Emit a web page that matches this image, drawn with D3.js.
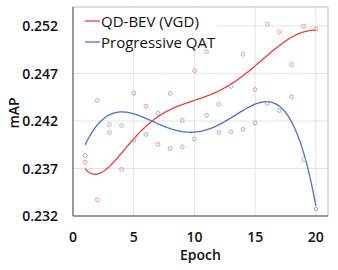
<!DOCTYPE html>
<html>
<head>
<meta charset="utf-8">
<script src="https://cdn.jsdelivr.net/npm/d3@7"></script>
<style>
  body { margin: 0; background: #fff; }
  text { font-family: "Open Sans", sans-serif; fill: #111; }
</style>
</head>
<body>
<svg id="chart"></svg>
<script>
// data
const epochs = d3.range(1, 21);
const qdBev = [0.23766, 0.23372, 0.24080, 0.23691, 0.23998, 0.24355, 0.23954, 0.24490, 0.23929, 0.24730,
               0.24930, 0.24377, 0.24088, 0.24902, 0.24532, 0.25219, 0.25138, 0.24796, 0.25198, 0.25169];
const progQat = [0.23837, 0.24416, 0.24162, 0.24153, 0.24493, 0.24058, 0.24281, 0.23910, 0.24207, 0.24011,
                 0.24260, 0.24080, 0.24564, 0.24112, 0.24180, 0.24384, 0.24310, 0.24455, 0.23792, 0.23274];
const xTicks = [0, 5, 10, 15, 20];
const yTicks = [0.232, 0.237, 0.242, 0.247, 0.252];
const seriesNames = ["QD-BEV (VGD)", "Progressive QAT"];

const W = 338, H = 270;
const margin = {top: 7, right: 10, bottom: 54, left: 73};

const svg = d3.select("#chart").attr("width", W).attr("height", H);

const x = d3.scaleLinear().domain([0, 21]).range([margin.left, W - margin.right]);
const y = d3.scaleLinear().domain([0.232, 0.254]).range([H - margin.bottom, margin.top]);

// least squares polynomial trend line (like a spreadsheet trendline)
function polyFit(xs, ys, deg) {
  const c = 10.5, s = 9.5;
  const n = deg + 1;
  const A = [];
  for (let i = 0; i < n; i++) { A.push(new Array(n + 1).fill(0)); }
  xs.forEach((xv, k) => {
    const t = (xv - c) / s;
    for (let i = 0; i < n; i++) {
      for (let j = 0; j < n; j++) A[i][j] += Math.pow(t, i + j);
      A[i][n] += ys[k] * Math.pow(t, i);
    }
  });
  for (let i = 0; i < n; i++) {
    let p = i;
    for (let r = i + 1; r < n; r++) {
      if (Math.abs(A[r][i]) > Math.abs(A[p][i])) p = r;
    }
    const tmp = A[i]; A[i] = A[p]; A[p] = tmp;
    for (let r = 0; r < n; r++) {
      if (r === i) continue;
      const f = A[r][i] / A[i][i];
      for (let cc = i; cc <= n; cc++) A[r][cc] -= f * A[i][cc];
    }
  }
  const coef = A.map((row, i) => row[n] / row[i]);
  return xv => {
    const t = (xv - c) / s;
    return coef.reduce((acc, a, i) => acc + a * Math.pow(t, i), 0);
  };
}

// grid
const grid = svg.append("g").attr("stroke", "#e3e3e3").attr("stroke-width", 1);
grid.selectAll(".gx").data(xTicks.slice(1)).enter().append("line")
  .attr("x1", d => x(d)).attr("x2", d => x(d))
  .attr("y1", y.range()[1]).attr("y2", y.range()[0]);
grid.selectAll(".gy").data(yTicks.slice(1)).enter().append("line")
  .attr("x1", x.range()[0]).attr("x2", x.range()[1])
  .attr("y1", d => y(d)).attr("y2", d => y(d));

// legend background hides the grid
svg.append("rect")
  .attr("x", x(0) + 1).attr("y", y.range()[1] + 1)
  .attr("width", 143).attr("height", 41)
  .attr("fill", "#fff");

const series = [
  {name: seriesNames[0], values: qdBev, deg: 6, line: "#ee3b3b", dot: "#ef8a8a"},
  {name: seriesNames[1], values: progQat, deg: 5, line: "#4a72c8", dot: "#8ea6dc"}
];

const line = d3.line().x(d => x(d[0])).y(d => y(d[1]));

series.forEach(s => {
  const fit = polyFit(epochs, s.values, s.deg);
  const pts = d3.range(1, 20.001, 0.1).map(e => [e, fit(e)]);
  svg.append("path").datum(pts)
    .attr("d", line)
    .attr("fill", "none")
    .attr("stroke", s.line)
    .attr("stroke-width", 1.3);
  svg.append("g").selectAll("circle")
    .data(epochs.map((e, i) => [e, s.values[i]]))
    .enter().append("circle")
    .attr("cx", d => x(d[0])).attr("cy", d => y(d[1]))
    .attr("r", 1.9)
    .attr("fill", "none")
    .attr("stroke", s.dot)
    .attr("stroke-width", 0.9);
});

// frame
svg.append("rect")
  .attr("x", x.range()[0]).attr("y", y.range()[1])
  .attr("width", x.range()[1] - x.range()[0])
  .attr("height", y.range()[0] - y.range()[1])
  .attr("fill", "none").attr("stroke", "#bbb");
svg.append("line")
  .attr("x1", x.range()[0]).attr("x2", x.range()[0])
  .attr("y1", y.range()[1]).attr("y2", y.range()[0])
  .attr("stroke", "#555");
svg.append("line")
  .attr("x1", x.range()[0]).attr("x2", x.range()[1])
  .attr("y1", y.range()[0]).attr("y2", y.range()[0])
  .attr("stroke", "#555");

// tick labels
svg.append("g").selectAll("text").data(xTicks).enter().append("text")
  .attr("x", d => x(d)).attr("y", 242)
  .attr("text-anchor", "middle")
  .attr("font-size", 14).attr("font-weight", 600)
  .text(d => d);
svg.append("g").selectAll("text").data(yTicks).enter().append("text")
  .attr("x", 58).attr("y", d => y(d) + 5)
  .attr("text-anchor", "end")
  .attr("font-size", 14).attr("font-weight", 600)
  .text(d => d3.format(".3f")(d));

// axis titles
svg.append("text")
  .attr("x", (x.range()[0] + x.range()[1]) / 2).attr("y", 260)
  .attr("text-anchor", "middle")
  .attr("font-size", 14).attr("font-weight", 600)
  .text("Epoch");
svg.append("text")
  .attr("transform", "translate(19," + 113 + ") rotate(-90)")
  .attr("text-anchor", "middle")
  .attr("font-size", 14).attr("font-weight", 600)
  .text("mAP");

// legend
const legend = svg.append("g");
series.forEach((s, i) => {
  const ly = 21 + i * 21;
  legend.append("line")
    .attr("x1", 85).attr("x2", 100)
    .attr("y1", ly).attr("y2", ly)
    .attr("stroke", s.line).attr("stroke-width", 1.3);
  legend.append("text")
    .attr("x", 101).attr("y", ly + 5.5)
    .attr("font-size", 15)
    .text(s.name);
});
</script>
</body>
</html>
